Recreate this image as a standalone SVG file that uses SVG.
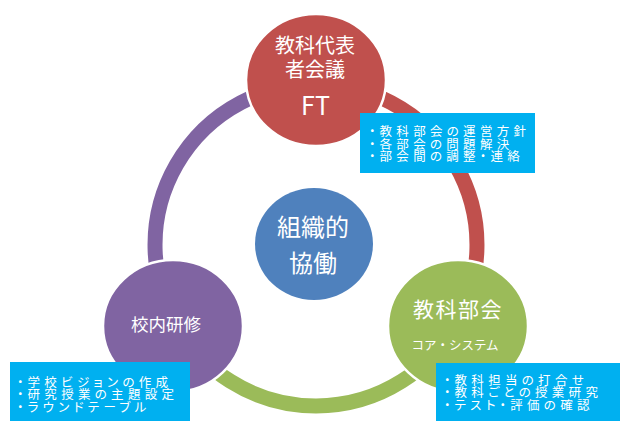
<svg xmlns="http://www.w3.org/2000/svg" width="620" height="421" viewBox="0 0 620 421">
<style>
.lbl{fill:#fff;font-family:"Noto Sans CJK JP","Noto Sans",sans-serif;text-anchor:middle}
.node{stroke:#fff;stroke-width:2.5}
.arc{fill:none;stroke-width:15}
.box{fill:#00B0F0}
.info{fill:#fff;font-family:"Noto Sans CJK JP",sans-serif;font-size:12.5px;letter-spacing:4.3px;font-feature-settings:"palt"}
</style>
<rect width="620" height="421" fill="#fff"/>
<g id="connectors">
<path class="arc" stroke="#C0504D" d="M316 84 A161 161 0 0 1 455.4 325.5"/>
<path class="arc" stroke="#9BBB59" d="M455.4 325.5 A161 161 0 0 1 176.6 325.5"/>
<path class="arc" stroke="#8064A2" d="M176.6 325.5 A161 161 0 0 1 316 84"/>
</g>
<g id="center">
<ellipse cx="314" cy="244" rx="59" ry="56" fill="#4F81BD"/>
<text class="lbl" x="313" y="236" font-size="24">組織的<tspan x="313" dy="36">協働</tspan></text>
</g>
<g id="ft">
<ellipse class="node" cx="316" cy="80" rx="70" ry="66" fill="#C0504D"/>
<text class="lbl" x="315" y="53" font-size="20">教科代表<tspan x="315" dy="24">者会議</tspan></text>
<text class="lbl" x="315.5" y="115" font-size="25">FT</text>
</g>
<g id="kyoka">
<ellipse class="node" cx="458" cy="326" rx="70" ry="66" fill="#9BBB59"/>
<text class="lbl" x="458" y="317" font-size="21" letter-spacing="1.5">教科部会</text>
<text class="lbl" x="455" y="350" font-size="12.5">コア・システム</text>
</g>
<g id="konai">
<ellipse class="node" cx="173" cy="326" rx="70" ry="66" fill="#8064A2"/>
<text class="lbl" x="166" y="331" font-size="17.5">校内研修</text>
</g>
<g id="info-ft">
<rect class="box" x="360" y="113" width="175" height="60"/>
<text class="info" x="369" y="136">・教科部会の運営方針<tspan x="369" dy="12.5">・各部会の問題解決</tspan><tspan x="369" dy="12.5">・部会間の調整・連絡</tspan></text>
</g>
<g id="info-konai">
<rect class="box" x="10" y="362" width="180" height="59"/>
<text class="info" x="17" y="386.5">・学校ビジョンの作成<tspan x="17" dy="12.5">・研究授業の主題設定</tspan><tspan x="17" dy="12.5">・ラウンドテーブル</tspan></text>
</g>
<g id="info-kyoka">
<rect class="box" x="436" y="363" width="184" height="58"/>
<text class="info" x="444" y="384.5">・教科担当の打合せ<tspan x="444" dy="12.5">・教科ごとの授業研究</tspan><tspan x="444" dy="12.5">・テスト・評価の確認</tspan></text>
</g>
</svg>
